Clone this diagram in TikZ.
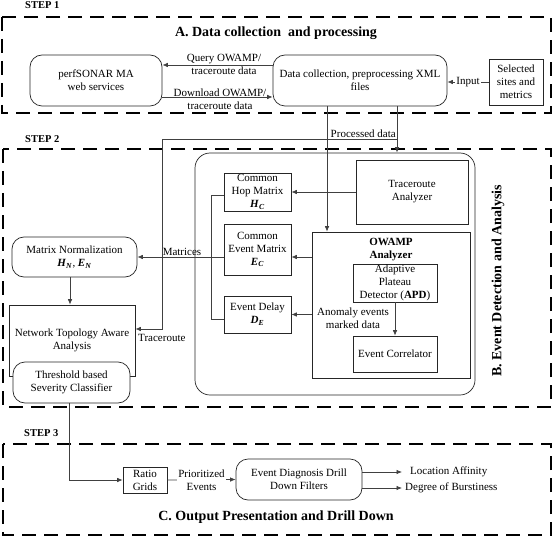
\documentclass[tikz,border=0pt]{standalone}
\usepackage{fontspec}
\setmainfont{Liberation Serif}
\usetikzlibrary{arrows.meta}
\newcommand{\bisub}[2]{\textbf{\textit{#1}}\textsubscript{\textbf{\textit{#2}}}}
\begin{document}
\begin{tikzpicture}[x=1pt,y=-1pt,
  every node/.style={font=\fontsize{11}{13}\selectfont, align=center, inner sep=1pt},
  box/.style={draw=black!85, line width=0.7pt, inner sep=1pt},
  rbox/.style={box, rounded corners=12pt},
  conn/.style={draw=black!75, line width=0.7pt},
  arr/.style={conn, -{Latex[length=5.5pt,width=4.5pt]}},
  phase/.style={line width=2.6pt, dash pattern=on 14pt off 8pt},
  title/.style={font=\fontsize{14}{16}\selectfont\bfseries},
  steplbl/.style={font=\fontsize{10.5}{12}\selectfont\bfseries}]
\useasboundingbox (0,0) rectangle (553,537);
% phase frames
\draw[phase] (2,17) rectangle (551,113);
\draw[phase] (3,149) rectangle (551,407);
\draw[phase] (3,444) rectangle (551,535);
\node[steplbl, anchor=west] (s1) at (24,5) {STEP 1};
\node[steplbl, anchor=west] (s2) at (24,139) {STEP 2};
\node[steplbl, anchor=west] (s3) at (23,433) {STEP 3};
\node[title] (ta) at (276,33) {A. Data collection\ \ and processing};
\node[title, rotate=90] (tbt) at (498,281) {B. Event Detection and Analysis};
\node[title] (tc) at (276,517) {C. Output Presentation and Drill Down};
% step 1
\node[rbox, minimum width=132, minimum height=51] (perf) at (96,80.5) {perfSONAR MA\\web services};
\node[rbox, minimum width=174, minimum height=51] (dc) at (360,80.5) {Data collection, preprocessing XML\\files};
\node[box, minimum width=54, minimum height=46] (sel) at (516,82) {Selected\\sites and\\metrics};
\draw[arr] ([yshift=15.5pt]dc.west) -- ([yshift=15.5pt]perf.east);
\node (lq) at (224,64) {Query OWAMP/\\traceroute data};
\draw[arr] ([yshift=-16.5pt]perf.east) -- ([yshift=-16.5pt]dc.west);
\node (ld) at (220,99) {Download OWAMP/\\traceroute data};
\draw[arr] (sel.west) -- (sel.west -| dc.east) node[midway, fill=white, inner sep=1pt] (lin) {Input};
% step 2
\node[box, rounded corners=15pt, minimum width=280, minimum height=242] (core) at (335,274) {};
\node[box, minimum width=112, minimum height=64] (tra) at (412,192) {Traceroute\\Analyzer};
\node[box, minimum width=158, minimum height=146] (owa) at (391,305) {};
\node[font=\fontsize{11}{13}\selectfont\bfseries] (owat) at (391,250) {OWAMP\\Analyzer};
\node[box, minimum width=84, minimum height=36] (apd) at (395,283) {Adaptive\\Plateau\\Detector (\textbf{APD})};
\node[box, minimum width=84, minimum height=36] (cor) at (395,354) {Event Correlator};
\node (anom) at (353,318) {Anomaly events\\marked data};
\node[box, minimum width=67, minimum height=38] (hop) at (257.5,192) {Common\\Hop Matrix\\\bisub{H}{C}};
\node[box, minimum width=67, minimum height=51] (evm) at (257.5,249.5) {Common\\Event Matrix\\\bisub{E}{C}};
\node[box, minimum width=67, minimum height=37] (del) at (257.5,314.5) {Event Delay\\\bisub{D}{E}};
\node[rbox, minimum width=125, minimum height=40] (mn) at (74.5,257) {Matrix Normalization\\\bisub{H}{N}, \bisub{E}{N}};
\node[box, minimum width=126, minimum height=71, fill=white] (nt) at (72,340.5) {Network Topology Aware\\Analysis};
\node[rbox, minimum width=117, minimum height=41, fill=white] (thr) at (71.5,382.5) {Threshold based\\Severity Classifier};
\draw[arr] (tra.west) -- (tra.west -| hop.east);
\draw[arr] (owa.west |- mn.east) -- (evm.east |- mn.east);
\draw[arr] (owa.west |- del.east) -- (del.east);
\draw[conn] ([yshift=-3pt]hop.west) -- ++(-12,0) |- ([yshift=-4.5pt]del.west);
\draw[arr] (evm.west |- mn.east) -- (mn.east);
\node (lmat) at (182,252) {Matrices};
\draw[arr] ([xshift=-4.5pt]mn.south) -- ([xshift=-4.5pt]mn.south |- nt.north);
\draw[arr] (apd.south) -- (cor.north);
% processed data
\coordinate (yp) at (0,139);
\coordinate (dcr) at ([xshift=37pt]dc.south);
\coordinate (dcl) at ([xshift=-33pt]dc.south);
\draw[arr] (dcr) -- (dcr |- core.north);
\draw[arr] (dcl) -- (dcl |- owa.north);
\coordinate (pd) at (dcr |- yp);
\coordinate (tbend) at (162,139);
\draw[arr] (pd) -- (tbend) |- ([yshift=11.5pt]nt.east);
\node[anchor=south east, inner sep=1pt] (lpd) at (pd) {Processed data};
\node[anchor=west] (ltr) at (137,338) {Traceroute};
% step 3
\node[box, minimum width=44, minimum height=26] (ratio) at (145,480) {Ratio\\Grids};
\draw[arr] ([xshift=-2.5pt]thr.south) |- (ratio.west);
\node[rbox, minimum width=126, minimum height=41] (diag) at (299,479.5) {Event Diagnosis Drill\\Down Filters};
\draw[arr] (ratio.east) -- (diag.west) node[midway, fill=white] (lpr) {Prioritized\\Events};
\node[anchor=west, inner sep=3pt] (loc) at (407,472) {Location Affinity};
\node[anchor=west, inner sep=3pt] (deg) at (402,488) {Degree of Burstiness};
\draw[arr] (diag.east |- loc.west) -- (loc.west -| deg.west);
\draw[arr] (diag.east |- deg.west) -- (deg.west);
\end{tikzpicture}
\end{document}
